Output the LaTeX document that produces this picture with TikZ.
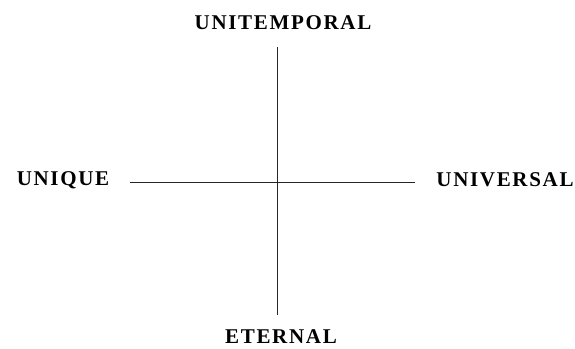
\documentclass[tikz,border=0pt]{standalone}
\usepackage{fontspec}
\setmainfont{Liberation Serif}
\newfontfamily\labelfont[LetterSpace=8]{Liberation Serif Bold}
\begin{document}
\begin{tikzpicture}[x=1pt,y=-1pt,
  lbl/.style={font=\labelfont\fontsize{21}{21}\selectfont, inner sep=0pt, anchor=center},
  axis/.style={line width=1pt, black!85}]
\useasboundingbox (0,0) rectangle (575,348);
\node[lbl] (ut) at (283,23) {UNITEMPORAL};
\node[lbl] (uq) at (63,180) {UNIQUE};
\node[lbl] (uv) at (505,180) {UNIVERSAL};
\node[lbl] (et) at (281,337) {ETERNAL};
\coordinate (top) at (277,47);
\coordinate (bot) at (277,315);
\coordinate (lft) at (130,182);
\coordinate (rgt) at (415,182);
\draw[axis] (top) -- (bot);
\draw[axis] (lft) -- (rgt);
\end{tikzpicture}
\end{document}
